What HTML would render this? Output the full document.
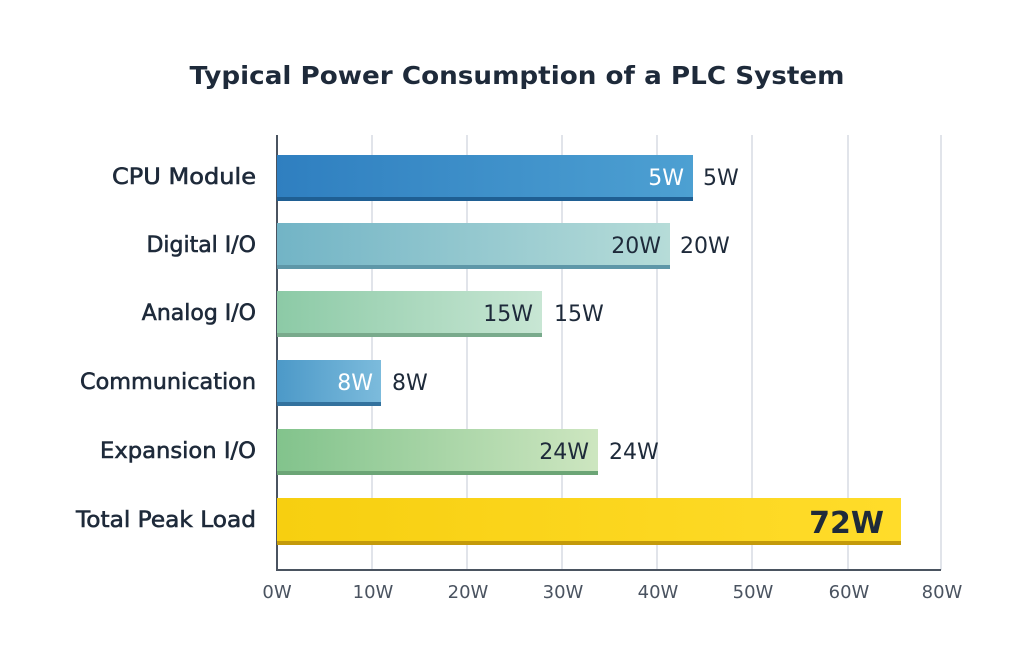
<!DOCTYPE html>
<html><head><meta charset="utf-8"><style>
body{margin:0;background:#fff;}
svg text{font-family:"DejaVu Sans","Liberation Sans",sans-serif;}
</style></head><body>
<svg width="1024" height="665" viewBox="0 0 1024 665" xmlns="http://www.w3.org/2000/svg">
<defs>
<linearGradient id="g1" x1="0" x2="1"><stop offset="0" stop-color="#2f7fc0"/><stop offset="1" stop-color="#4da0d2"/></linearGradient>
<linearGradient id="g2" x1="0" x2="1"><stop offset="0" stop-color="#72b4c6"/><stop offset="1" stop-color="#b6dcd8"/></linearGradient>
<linearGradient id="g3" x1="0" x2="1"><stop offset="0" stop-color="#8ccaa6"/><stop offset="1" stop-color="#c8e6d4"/></linearGradient>
<linearGradient id="g4" x1="0" x2="1"><stop offset="0" stop-color="#4c99c8"/><stop offset="1" stop-color="#7cbbdc"/></linearGradient>
<linearGradient id="g5" x1="0" x2="1"><stop offset="0" stop-color="#82c38c"/><stop offset="1" stop-color="#cde6c0"/></linearGradient>
<linearGradient id="g6" x1="0" x2="1"><stop offset="0" stop-color="#f7cf10"/><stop offset="1" stop-color="#ffdc2a"/></linearGradient>
</defs>
<text x="517" y="84" text-anchor="middle" font-size="25" font-weight="bold" fill="#1e2a3a" textLength="655" lengthAdjust="spacingAndGlyphs">Typical Power Consumption of a PLC System</text>
<g stroke="#cdd3dc" stroke-width="1.2">
<line x1="372" y1="135" x2="372" y2="570"/><line x1="467" y1="135" x2="467" y2="570"/>
<line x1="562" y1="135" x2="562" y2="570"/><line x1="657" y1="135" x2="657" y2="570"/>
<line x1="752" y1="135" x2="752" y2="570"/><line x1="848" y1="135" x2="848" y2="570"/>
<line x1="941" y1="135" x2="941" y2="570"/>
</g>
<line x1="277" y1="135" x2="277" y2="571" stroke="#4a5360" stroke-width="2"/>
<line x1="277" y1="570" x2="941" y2="570" stroke="#4a5360" stroke-width="2"/>
<g>
<rect x="277" y="155" width="416" height="46" fill="url(#g1)"/><rect x="277" y="197" width="416" height="4" fill="#1f5f93"/>
<rect x="277" y="223" width="393" height="46" fill="url(#g2)"/><rect x="277" y="265" width="393" height="4" fill="#5e97a8"/>
<rect x="277" y="291" width="265" height="46" fill="url(#g3)"/><rect x="277" y="333" width="265" height="4" fill="#79aa8c"/>
<rect x="277" y="360" width="104" height="46" fill="url(#g4)"/><rect x="277" y="402" width="104" height="4" fill="#33729e"/>
<rect x="277" y="429" width="321" height="46" fill="url(#g5)"/><rect x="277" y="471" width="321" height="4" fill="#6ca576"/>
<rect x="277" y="498" width="624" height="47" fill="url(#g6)"/><rect x="277" y="541" width="624" height="4" fill="#c49a0a"/>
</g>
<g font-size="22" fill="#1e2a3a" text-anchor="end" stroke="#1e2a3a" stroke-width="0.6">
<text x="256" y="184" textLength="144" lengthAdjust="spacingAndGlyphs">CPU Module</text><text x="256" y="252">Digital I/O</text>
<text x="256" y="320">Analog I/O</text><text x="256" y="389" textLength="176" lengthAdjust="spacingAndGlyphs">Communication</text>
<text x="256" y="458" textLength="156" lengthAdjust="spacingAndGlyphs">Expansion I/O</text><text x="256" y="527" textLength="180" lengthAdjust="spacingAndGlyphs">Total Peak Load</text>
</g>
<g font-size="22" text-anchor="end">
<text x="684" y="185" fill="#fff">5W</text><text x="661" y="253" fill="#1e2a3a">20W</text>
<text x="533" y="321" fill="#1e2a3a">15W</text><text x="373" y="390" fill="#fff">8W</text>
<text x="589" y="459" fill="#1e2a3a">24W</text>
<text x="884" y="533" font-size="30" font-weight="bold" fill="#1e2a3a">72W</text>
</g>
<g font-size="22" fill="#1e2a3a">
<text x="703" y="185">5W</text><text x="680" y="253">20W</text><text x="554" y="321">15W</text>
<text x="392" y="390">8W</text><text x="609" y="459">24W</text>
</g>
<g font-size="18" fill="#4a5360" text-anchor="middle">
<text x="277" y="598">0W</text><text x="373" y="598">10W</text><text x="468" y="598">20W</text>
<text x="563" y="598">30W</text><text x="658" y="598">40W</text><text x="753" y="598">50W</text>
<text x="849" y="598">60W</text><text x="942" y="598">80W</text>
</g>
</svg>
</body></html>
